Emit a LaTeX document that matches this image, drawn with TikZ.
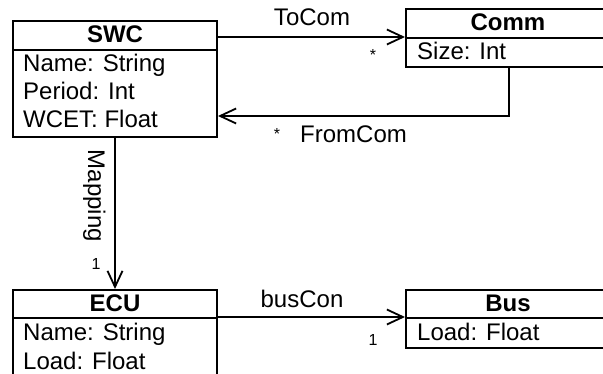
\documentclass[tikz,border=0pt]{standalone}
\usepackage{fontspec}
\setmainfont{Liberation Sans}
\usetikzlibrary{arrows.meta}
\tikzset{
  box/.style={draw, line width=2pt, inner sep=0pt, minimum width=204pt},
  txt/.style={inner sep=0pt, font=\fontsize{24}{28}\selectfont},
  ttl/.style={inner sep=0pt, font=\fontsize{24}{28}\selectfont\bfseries},
  mult/.style={inner sep=0pt, font=\fontsize{16}{18}\selectfont},
  assoc/.style={line width=1.8pt, -{Straight Barb[length=16pt,width=15pt,line width=1.8pt]}},
  plain/.style={line width=1.8pt}
}
\begin{document}
\begin{tikzpicture}[x=1pt,y=-1pt]
\useasboundingbox (0,0) rectangle (603,374);
\clip (0,0) rectangle (603,374);
% SWC
\node[box, minimum height=29pt] (swct) at (115,35.5) {};
\node[box, minimum height=87pt] (swca) at (115,93.5) {};
\node[ttl, anchor=base] (swcn) at (115,43) {SWC};
\node[txt, anchor=base west] (swc1) at (23,72) {Name: String};
\node[txt, anchor=base west] (swc2) at (23,100) {Period: Int};
\node[txt, anchor=base west] (swc3) at (23,128) {WCET: Float};
% Comm
\node[box, minimum height=29pt] (commt) at (508,23.5) {};
\node[box, minimum height=29pt] (comma) at (508,52.5) {};
\node[ttl, anchor=base] (commn) at (508,31) {Comm};
\node[txt, anchor=base west] (comm1) at (417,60) {Size: Int};
% ECU
\node[box, minimum height=28pt] (ecut) at (115,304) {};
\node[box, minimum height=67pt] (ecua) at (115,351.5) {};
\node[ttl, anchor=base] (ecun) at (115,312) {ECU};
\node[txt, anchor=base west] (ecu1) at (23,341) {Name: String};
\node[txt, anchor=base west] (ecu2) at (23,370) {Load: Float};
% Bus
\node[box, minimum height=28pt] (bust) at (508,304) {};
\node[box, minimum height=30pt] (busa) at (508,333) {};
\node[ttl, anchor=base] (busn) at (508,312) {Bus};
\node[txt, anchor=base west] (bus1) at (417,341) {Load: Float};
% ToCom
\draw[assoc] (swct.east |- comma.north west) -- (comma.north west);
\node[txt, anchor=base] (tocom) at (312,26) {ToCom};
\node[mult] (tocomm) at (373,55) {*};
% FromCom
\coordinate (fc) at (509,116);
\draw[assoc] (comma.south -| fc) -- (fc) -- (swca.east |- fc);
\node[txt, anchor=base west] (fromcom) at (300,143) {FromCom};
\node[mult] (fromcomm) at (277,134) {*};
% Mapping
\draw[assoc] (swca.south) -- (ecut.north);
\node[txt, anchor=base, rotate=-90] (mapping) at (88,196) {Mapping};
\node[mult, anchor=base] (mapm) at (96,270) {1};
% busCon
\draw[assoc] (ecua.north east) -- (busa.north west);
\node[txt, anchor=base] (buscon) at (302,308) {busCon};
\node[mult, anchor=base] (busm) at (373,345) {1};
\end{tikzpicture}
\end{document}
